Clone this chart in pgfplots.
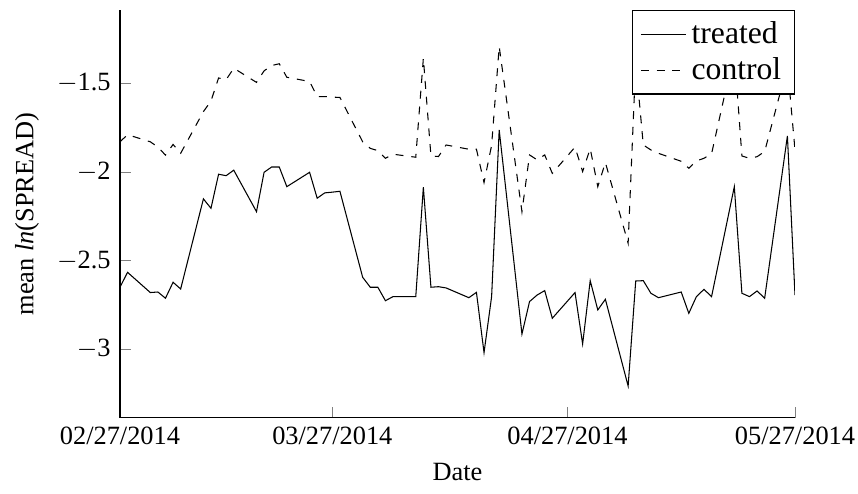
\documentclass[border=0pt]{standalone}
\usepackage{fontspec}
\setmainfont{Liberation Serif}
\usepackage{pgfplots}
\pgfplotsset{compat=1.18}
\begin{document}
\begin{tikzpicture}
\begin{axis}[
  scale only axis,
  width=256pt, height=154.7pt,
  xmin=0, xmax=89,
  ymin=-3.387, ymax=-1.087,
  axis x line=bottom, axis y line=left,
  axis line style={-},
  tick align=inside,
  xtick={0,28,59,89},
  xticklabels={02/27/2014,03/27/2014,04/27/2014,05/27/2014},
  ytick={-1.5,-2,-2.5,-3},
  yticklabels={$-$1.5,$-$2,$-$2.5,$-$3},
  xlabel={Date},
  ylabel={mean \textit{ln}(SPREAD)},
  legend style={at={(1,1)}, anchor=north east, font=\large, draw=black, fill=white},
  legend cell align=left,
]
\addplot[black, solid] coordinates {
(0,-2.650) (1,-2.566) (4,-2.680) (5,-2.677) (6,-2.712) (7,-2.622) (8,-2.660)
(11,-2.152) (12,-2.205) (13,-2.013) (14,-2.021) (15,-1.990)
(18,-2.224) (19,-2.002) (20,-1.972) (21,-1.972) (22,-2.083)
(25,-2.002) (26,-2.148) (27,-2.118) (28,-2.114) (29,-2.109)
(32,-2.594) (33,-2.650) (34,-2.650) (35,-2.726) (36,-2.703)
(39,-2.703) (40,-2.086) (41,-2.650) (42,-2.647) (43,-2.654)
(46,-2.709) (47,-2.679) (48,-3.019) (49,-2.703) (50,-1.763)
(53,-2.914) (54,-2.731) (55,-2.694) (56,-2.669) (57,-2.825)
(60,-2.680) (61,-2.970) (62,-2.613) (63,-2.778) (64,-2.718)
(67,-3.207) (68,-2.615) (69,-2.613) (70,-2.684) (71,-2.709)
(74,-2.677) (75,-2.797) (76,-2.703) (77,-2.662) (78,-2.703)
(81,-2.083) (82,-2.684) (83,-2.703) (84,-2.671) (85,-2.712)
(88,-1.797) (89,-2.694)
};
\addlegendentry{treated}
\addplot[black, dashed] coordinates {
(0,-1.83) (1,-1.79) (4,-1.83) (5,-1.86) (6,-1.905) (7,-1.845) (8,-1.895)
(11,-1.66) (12,-1.60) (13,-1.47) (14,-1.48) (15,-1.415)
(18,-1.495) (19,-1.43) (20,-1.40) (21,-1.39) (22,-1.466)
(25,-1.49) (26,-1.575) (27,-1.575) (28,-1.578) (29,-1.58)
(32,-1.83) (33,-1.867) (34,-1.88) (35,-1.923) (36,-1.90)
(39,-1.917) (40,-1.359) (41,-1.91) (42,-1.913) (43,-1.848)
(46,-1.872) (47,-1.872) (48,-2.06) (49,-1.85) (50,-1.293)
(53,-2.224) (54,-1.904) (55,-1.932) (56,-1.904) (57,-2.008)
(60,-1.86) (61,-1.998) (62,-1.868) (63,-2.083) (64,-1.947)
(67,-2.402) (68,-1.38) (69,-1.848) (70,-1.876) (71,-1.895)
(74,-1.94) (75,-1.979) (76,-1.938) (77,-1.923) (78,-1.898)
(81,-1.32) (82,-1.91) (83,-1.923) (84,-1.914) (85,-1.885)
(88,-1.40) (89,-1.876)
};
\addlegendentry{control}
\end{axis}
\pgfresetboundingbox
\path ([xshift=-45.5pt, yshift=3.8pt]current axis.north west) rectangle ([xshift=23.9pt, yshift=-28.8pt]current axis.south east);
\end{tikzpicture}
\end{document}
